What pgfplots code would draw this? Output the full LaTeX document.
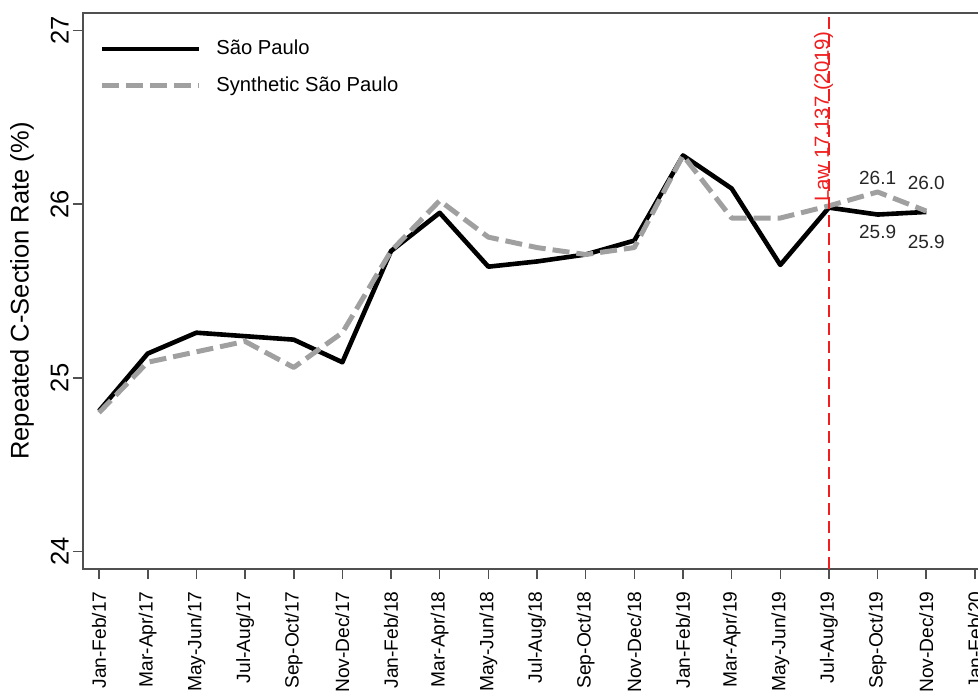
\documentclass[border=0pt]{standalone}
\usepackage{fontspec}
\setmainfont{Liberation Sans}
\usepackage{pgfplots}
\pgfplotsset{compat=1.18}

\definecolor{synth}{RGB}{160,160,160}
\definecolor{frame}{RGB}{80,80,80}
\definecolor{lawred}{RGB}{240,30,30}

\begin{document}
\begin{tikzpicture}
\begin{axis}[
    at={(0,0)}, anchor=south west,
    scale only axis,
    width=454pt, height=278pt,
    xmin=-0.33, xmax=18.33,
    ymin=23.9, ymax=27.1,
    xtick={0,...,18},
    xticklabels={Jan-Feb/17,Mar-Apr/17,May-Jun/17,Jul-Aug/17,Sep-Oct/17,Nov-Dec/17,
                 Jan-Feb/18,Mar-Apr/18,May-Jun/18,Jul-Aug/18,Sep-Oct/18,Nov-Dec/18,
                 Jan-Feb/19,Mar-Apr/19,May-Jun/19,Jul-Aug/19,Sep-Oct/19,Nov-Dec/19,Jan-Feb/20},
    ytick={24,25,26,27},
    /pgf/number format/assume math mode=true,
    tick align=outside,
    major tick length=5pt,
    tick style={frame, line width=0.8pt},
    xtick pos=bottom, ytick pos=left,
    axis line style={frame, line width=1pt},
    xticklabel style={yshift=-6pt, rotate=90, anchor=east, inner sep=0pt, font=\fontsize{9.6}{11}\selectfont},
    yticklabel style={xshift=-2pt, rotate=90, anchor=south, inner sep=0pt, font=\fontsize{12.75}{15}\selectfont},
    every axis y label/.style={at={(axis description cs:-0.0672,0.5)}, rotate=90, anchor=center},
    ylabel={Repeated C-Section Rate (\%)},
    ylabel style={font=\fontsize{12.75}{15}\selectfont},
    legend cell align=left,
    legend image code/.code={\draw[#1] (0pt,0pt) -- (48.5pt,0pt);},
    legend style={draw=none, fill=none, at={(axis description cs:0,1)}, anchor=north west,
                  xshift=5pt, yshift=-11pt, row sep=8.8pt, column sep=7.5pt,
                  nodes={inner sep=0pt, text height=7.5pt, text depth=2pt},
                  font=\fontsize{10.1}{12}\selectfont},
    clip=false,
]
\addplot[black, line width=2.3pt, line join=round] coordinates {
    (0,24.81) (1,25.14) (2,25.26) (3,25.24) (4,25.22) (5,25.09)
    (6,25.73) (7,25.95) (8,25.64) (9,25.67) (10,25.71) (11,25.79)
    (12,26.28) (13,26.09) (14,25.65) (15,25.98) (16,25.94) (17,25.955)
};
\addlegendentry{São Paulo}
\addplot[synth, line width=2.5pt, dash pattern=on 8.5pt off 3.5pt, line join=round] coordinates {
    (0,24.80) (1,25.09) (2,25.15) (3,25.21) (4,25.06) (5,25.26)
    (6,25.73) (7,26.02) (8,25.81) (9,25.75) (10,25.71) (11,25.75)
    (12,26.28) (13,25.92) (14,25.92) (15,25.99) (16,26.07) (17,25.96)
};
\addlegendentry{Synthetic São Paulo}
\addplot[lawred, line width=0.9pt, dash pattern=on 6pt off 3pt, forget plot] coordinates {
    (15,23.9) (15,27.1)
};
\node[lawred, rotate=90, anchor=base west, inner sep=0pt, font=\fontsize{10.2}{12}\selectfont]
    at (axis cs:15,26.01) {Law 17.137 (2019)};
\node[black!85, font=\fontsize{9.5}{11}\selectfont] at (axis cs:16,26.15) {26.1};
\node[black!85, font=\fontsize{9.5}{11}\selectfont] at (axis cs:16,25.84) {25.9};
\node[black!85, font=\fontsize{9.5}{11}\selectfont] at (axis cs:17,26.12) {26.0};
\node[black!85, font=\fontsize{9.5}{11}\selectfont] at (axis cs:17,25.78) {25.9};
\end{axis}
\pgfresetboundingbox
\path[use as bounding box] (-41.5pt,-61pt) rectangle (447.5pt,284.5pt);
\end{tikzpicture}
\end{document}
